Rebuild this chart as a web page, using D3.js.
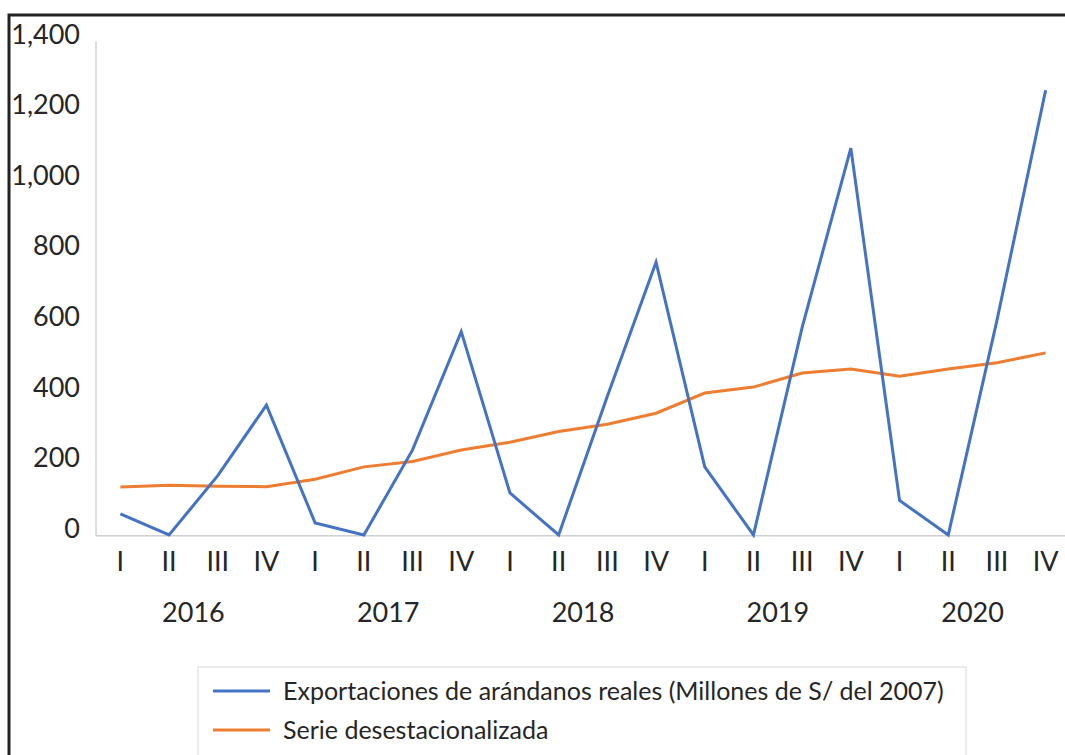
<!DOCTYPE html>
<html>
<head>
<meta charset="utf-8">
<script src="https://cdn.jsdelivr.net/npm/d3@7"></script>
<style>
  body { margin: 0; background: #fff; }
  text { font-family: Lato, "Open Sans", sans-serif; fill: #262626; }
</style>
</head>
<body>
<div id="chart"></div>
<script>
let years = ["2016", "2017", "2018", "2019", "2020"]
let quarters = ["I", "II", "III", "IV"]
let yTicks = [0, 200, 400, 600, 800, 1000, 1200, 1400]

// exportaciones de arándanos reales, por trimestre
let exportaciones = [62, 2, 170, 370, 36, 2, 243, 578, 121, 2, 395, 775, 195, 2, 590, 1098, 100, 2, 610, 1262]
// serie desestacionalizada
let desestacionalizada = [138, 143, 140, 139, 160, 195, 210, 243, 265, 295, 316, 347, 404, 421, 461, 472, 452, 472, 490, 518]

let seriesNames = ["Exportaciones de arándanos reales (Millones de S/ del 2007)", "Serie desestacionalizada"]
let colors = ["#4472c4", "#ed7d31"]

let W = 1065, H = 755

let svg = d3.select("#chart")
  .append("svg")
  .attr("width", W)
  .attr("height", H)

let idx = d3.range(exportaciones.length)

let x = d3.scaleBand()
  .domain(idx)
  .range([96, 1070])

let y = d3.scaleLinear()
  .domain([0, 1400])
  .range([535.7, 41.5])

// frame
svg.append("path")
  .attr("d", "M9,755 L9,15 L1065,15")
  .attr("stroke", "#222")
  .attr("stroke-width", 3)
  .style("fill", "none")

// axis lines
svg.append("line")
  .attr("x1", x.range()[0]).attr("x2", x.range()[0])
  .attr("y1", y(1400)).attr("y2", y(0))
  .attr("stroke", "#d0d0d0").attr("stroke-width", 1.5)

svg.append("line")
  .attr("x1", x.range()[0]).attr("x2", W)
  .attr("y1", y(0)).attr("y2", y(0))
  .attr("stroke", "#d0d0d0").attr("stroke-width", 1.5)

let yAxis = svg.append("g")
  .attr("transform", "translate(" + x.range()[0] + ",-7)")
  .call(d3.axisLeft(y).tickValues(yTicks).tickSize(0).tickPadding(16).tickFormat(d3.format(",")))
yAxis.select(".domain").remove()
yAxis.selectAll("text")
  .style("font-size", "27px")
  .style("font-family", "Lato, sans-serif")
  .attr("fill", "#262626")

let xAxis = svg.append("g")
  .attr("transform", "translate(0," + y(0) + ")")
  .call(d3.axisBottom(x).tickSize(0).tickPadding(16).tickFormat(i => quarters[i % 4]))
xAxis.select(".domain").remove()
xAxis.selectAll("text")
  .style("font-size", "27px")
  .style("font-family", "Lato, sans-serif")
  .attr("fill", "#262626")

svg.append("g")
  .selectAll("text")
  .data(years)
  .enter()
  .append("text")
  .attr("x", (d, i) => (x(i * 4 + 1) + x(i * 4 + 2)) / 2 + x.bandwidth() / 2)
  .attr("y", 622)
  .attr("text-anchor", "middle")
  .style("font-size", "27px")
  .text(d => d)

let line = d3.line()
  .x((d, i) => x(i) + x.bandwidth() / 2)
  .y(d => y(d))

svg.append("path")
  .datum(desestacionalizada)
  .attr("d", line)
  .attr("stroke", colors[1])
  .style("fill", "none")
  .style("stroke-width", 3)

svg.append("path")
  .datum(exportaciones)
  .attr("d", line)
  .attr("stroke", colors[0])
  .style("fill", "none")
  .style("stroke-width", 3)

// legend
svg.append("rect")
  .attr("x", 198).attr("y", 667)
  .attr("width", 768).attr("height", 120)
  .attr("stroke", "#d9d9d9")
  .style("fill", "#fff")

let legend = svg.append("g")
  .selectAll("g")
  .data(seriesNames)
  .enter()
  .append("g")
  .attr("transform", (d, i) => "translate(213," + (691 + i * 39) + ")")

legend.append("line")
  .attr("x1", 0).attr("x2", 57)
  .attr("stroke", (d, i) => colors[i])
  .attr("stroke-width", 3)

legend.append("text")
  .attr("x", 70)
  .attr("dy", "0.35em")
  .style("font-size", "25px")
  .text(d => d)
</script>
</body>
</html>
